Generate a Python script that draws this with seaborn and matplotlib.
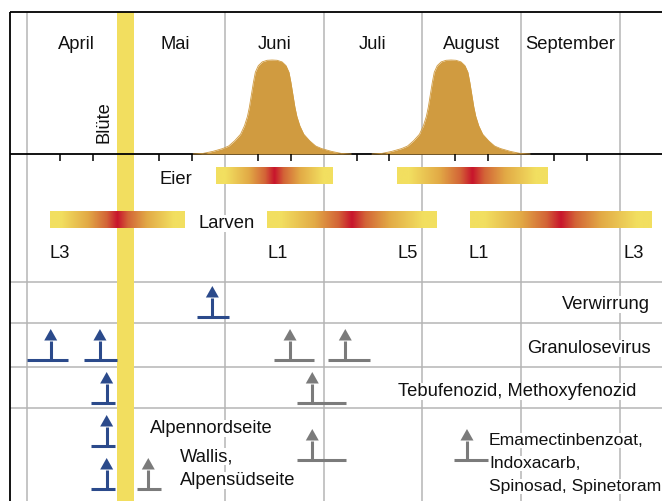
import numpy as np
import pandas as pd
import matplotlib
matplotlib.use("Agg")
import matplotlib.pyplot as plt
import seaborn as sns
from matplotlib.patches import Polygon, Rectangle
from matplotlib.colors import LinearSegmentedColormap

# ---------------- data (time in months since 1 April) ----------------
months = ["April", "Mai", "Juni", "Juli", "August", "September"]
bloom = (0.91, 1.08)  # Blüte

flight_levels = [0, 0.006, 0.028, 0.058, 0.085, 0.14, 0.21, 0.30, 0.40, 0.50, 0.63,
                 0.76, 0.87, 0.94, 0.98, 0.997, 1.0, 0.997, 0.98, 0.94, 0.87, 0.76,
                 0.63, 0.50, 0.40, 0.30, 0.21, 0.14, 0.085, 0.058, 0.028, 0.006, 0]
flight1_month = [1.68, 1.78, 1.88, 1.98, 2.04, 2.10, 2.16, 2.20, 2.23, 2.25, 2.27,
                 2.29, 2.31, 2.34, 2.38, 2.43, 2.48, 2.53, 2.58, 2.62, 2.65, 2.67,
                 2.69, 2.71, 2.73, 2.76, 2.80, 2.86, 2.92, 2.98, 3.08, 3.18, 3.28]
flight2_month = [3.49, 3.59, 3.69, 3.79, 3.85, 3.91, 3.97, 4.01, 4.04, 4.06, 4.08,
                 4.10, 4.12, 4.15, 4.19, 4.24, 4.29, 4.34, 4.39, 4.43, 4.46, 4.48,
                 4.50, 4.52, 4.54, 4.57, 4.61, 4.67, 4.73, 4.79, 4.89, 4.99, 5.09]

egg_start = [1.91, 3.74]
egg_end = [3.09, 5.26]
larva_start = [0.23, 2.43, 4.48]
larva_end = [1.59, 4.14, 6.32]

instar_labels = ["L3", "L1", "L5", "L1", "L3"]
instar_month = [0.23, 2.43, 3.955, 4.47, 6.24]
instar_align = ["left", "left", "right", "left", "right"]

arrow_row = ["Verwirrung", "Granulosevirus", "Granulosevirus", "Granulosevirus",
             "Granulosevirus", "Tebufenozid", "Tebufenozid", "Alpennordseite",
             "Beide", "Beide", "Alpensüdseite", "Alpensüdseite"]
arrow_month = [1.875, 0.240, 0.738, 2.661, 3.220, 0.806, 2.886, 0.806, 2.886, 4.451, 0.806, 1.227]
arrow_start = [1.717, 0.000, 0.577, 2.499, 3.045, 0.644, 2.728, 0.644, 2.728, 4.317, 0.644, 1.110]
arrow_end = [2.047, 0.412, 0.910, 2.906, 3.473, 0.890, 3.227, 0.890, 3.227, 4.661, 0.890, 1.356]
arrow_kind = ["blau", "blau", "blau", "grau", "grau", "blau", "grau", "blau",
              "grau", "grau", "blau", "grau"]

# ---------------- layout ----------------
PX = 98.85                      # pixels per month
def mx(px):
    return (px - 27) / PX

XL, XR = mx(0), mx(662)
FRAME_L = mx(10)
TOP = 12
AXIS_Y = 154
PEAK_H = 94
row_base = {"Verwirrung": 317, "Granulosevirus": 360, "Tebufenozid": 403,
            "Alpennordseite": 446, "Beide": 460, "Alpensüdseite": 489}
kind_color = {"blau": "#2B4A8B", "grau": "#7B7B7B"}
GRID = "#B5B5B5"
BAND = "#F2DE5F"
BELL = "#D09B40"
FS = 13.2
TXT = "#111111"

sns.set_theme(style="white")
plt.rcParams["font.family"] = ["Liberation Sans", "DejaVu Sans"]

fig = plt.figure(figsize=(6.62, 5.01), dpi=100)
ax = fig.add_axes([0, 0, 1, 1])
ax.axis("off")

# grid
ax.vlines(range(0, 7), TOP, 501, color=GRID, lw=1.1, zorder=1)
ax.hlines([281.5, 323, 366.5, 408], FRAME_L, XR, color=GRID, lw=1.1, zorder=1)

# bloom band
ax.add_patch(Rectangle((bloom[0], TOP), bloom[1] - bloom[0], 501 - TOP,
                       color=BAND, lw=0, zorder=2))

# flight curves
for xs in (flight1_month, flight2_month):
    df = pd.DataFrame({"month": xs, "y": [AXIS_Y - PEAK_H * v for v in flight_levels]})
    ax.fill_between(df["month"], df["y"], AXIS_Y, color=BELL, lw=0, zorder=3)
    sns.lineplot(data=df, x="month", y="y", ax=ax, color=BELL, lw=0.6,
                 sort=True, estimator=None, zorder=3)

# stage bars
cmap = LinearSegmentedColormap.from_list("stage", [
    (0.0, "#F2DF60"), (0.08, "#F2DF60"), (0.28, "#E2AA46"), (0.42, "#D36437"),
    (0.5, "#C8142C"), (0.58, "#D36437"), (0.72, "#E2AA46"), (0.92, "#F2DF60"),
    (1.0, "#F2DF60")])
grad = np.linspace(0, 1, 256)[None, :]
for s, e in zip(egg_start, egg_end):
    ax.imshow(grad, extent=[s, e, 184, 167], cmap=cmap, aspect="auto",
              interpolation="bilinear", zorder=4)
for s, e in zip(larva_start, larva_end):
    ax.imshow(grad, extent=[s, e, 228, 211], cmap=cmap, aspect="auto",
              interpolation="bilinear", zorder=4)

# frame, axis line, ticks
ax.hlines(TOP, FRAME_L, XR, color="black", lw=1.3, zorder=5)
ax.vlines(FRAME_L, TOP, 501, color="black", lw=1.3, zorder=5)
ax.hlines(AXIS_Y, FRAME_L, XR, color="black", lw=1.3, zorder=2.5)
for m in range(len(months)):
    ax.vlines([m + 1 / 3, m + 2 / 3], AXIS_Y, AXIS_Y + 7, color="black", lw=1.1, zorder=5)

# treatment arrows
hw = 6.5 / PX
for r, xm, x0, x1, k in zip(arrow_row, arrow_month, arrow_start, arrow_end, arrow_kind):
    yb = row_base[r]
    c = kind_color[k]
    ax.plot([x0, x1], [yb, yb], color=c, lw=2.2, solid_capstyle="butt", zorder=5)
    ax.plot([xm, xm], [yb, yb - 19.5], color=c, lw=2.2, solid_capstyle="butt", zorder=5)
    ax.add_patch(Polygon([[xm - hw, yb - 19.5], [xm + hw, yb - 19.5], [xm, yb - 31]],
                         closed=True, color=c, lw=0, zorder=5))

# texts
box = dict(facecolor="white", edgecolor="none", pad=0.0)
def label(x, y, s, ha="left", bbox=True, fs=FS, **kw):
    ax.text(x, y, s, ha=ha, va="baseline", fontsize=fs, color=TXT,
            bbox=box if bbox else None, zorder=6, **kw)

for i, mname in enumerate(months):
    label(i + 0.5, 49.3, mname, ha="center", bbox=False)

ax.text(mx(104), 143, "Blüte", rotation=90, ha="center", va="bottom",
        fontsize=FS, color=TXT, zorder=6)

label(mx(192), 183.5, "Eier", ha="right")
label(mx(198), 227.5, "Larven")
for s, xm, al in zip(instar_labels, instar_month, instar_align):
    label(xm, 258.3, s, ha=al)

label(mx(650), 309.3, "Verwirrung", ha="right")
label(mx(651), 352.6, "Granulosevirus", ha="right")
label(mx(636), 396, "Tebufenozid, Methoxyfenozid", ha="right")
label(mx(489), 445, "Emamectinbenzoat,", fs=12.6)
label(mx(489), 468, "Indoxacarb,", fs=12.6)
label(mx(489), 491, "Spinosad, Spinetoram", fs=12.6)
label(mx(150), 432.6, "Alpennordseite")
label(mx(180), 461, "Wallis,")
label(mx(180), 485.3, "Alpensüdseite")

ax.set_xlim(XL, XR)
ax.set_ylim(501, 0)
ax.set_xlabel("")
ax.set_ylabel("")
fig.savefig("out.png", dpi=100)
